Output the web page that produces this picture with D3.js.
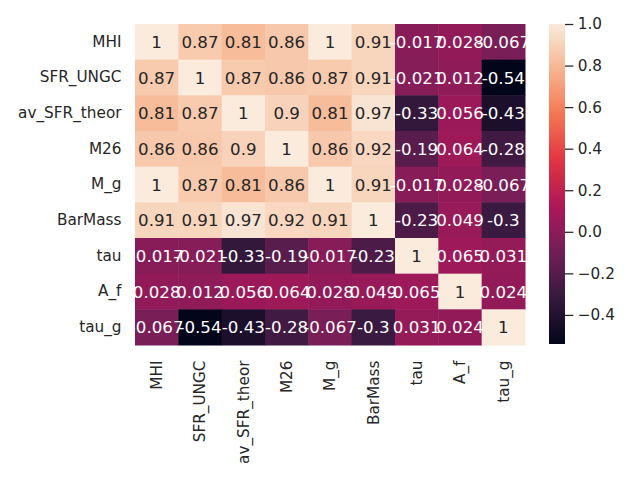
<!DOCTYPE html>
<html>
<head>
<meta charset="utf-8">
<script src="https://cdn.jsdelivr.net/npm/d3@7"></script>
<style>
  body { margin: 0; background: #fff; }
  svg { display: block; font-family: "DejaVu Sans", sans-serif; }
</style>
</head>
<body>
<div id="chart"></div>
<script>
// variable names, same order on both axes
var labels = ["MHI", "SFR_UNGC", "av_SFR_theor", "M26", "M_g", "BarMass", "tau", "A_f", "tau_g"];

// correlation rows, as printed in the cells
var rowMHI      = [1, 0.87, 0.81, 0.86, 1, 0.91, -0.017, 0.028, -0.067];
var rowSFR_UNGC = [0.87, 1, 0.87, 0.86, 0.87, 0.91, -0.021, 0.012, -0.54];
var rowAvSFR    = [0.81, 0.87, 1, 0.9, 0.81, 0.97, -0.33, 0.056, -0.43];
var rowM26      = [0.86, 0.86, 0.9, 1, 0.86, 0.92, -0.19, 0.064, -0.28];
var rowMg       = [1, 0.87, 0.81, 0.86, 1, 0.91, -0.017, 0.028, -0.067];
var rowBarMass  = [0.91, 0.91, 0.97, 0.92, 0.91, 1, -0.23, 0.049, -0.3];
var rowTau      = [-0.017, -0.021, -0.33, -0.19, -0.017, -0.23, 1, 0.065, 0.031];
var rowAf       = [0.028, 0.012, 0.056, 0.064, 0.028, 0.049, 0.065, 1, 0.024];
var rowTauG     = [-0.067, -0.54, -0.43, -0.28, -0.067, -0.3, 0.031, 0.024, 1];

var rows = [rowMHI, rowSFR_UNGC, rowAvSFR, rowM26, rowMg, rowBarMass, rowTau, rowAf, rowTauG];

var colorbarTicks = [-0.4, -0.2, 0.0, 0.2, 0.4, 0.6, 0.8, 1.0];

var width = 640, height = 480;

var cells = [];
rows.forEach(function (r, i) {
	r.forEach(function (v, j) {
		cells.push({ row: labels[i], col: labels[j], value: v });
	});
});

var vmin = d3.min(cells, function (d) { return d.value; });
var vmax = d3.max(cells, function (d) { return d.value; });

// seaborn "rocket" approximated by a few samples of the map
var rocketStops = ["#03051a", "#35193e", "#701f57", "#ad1759", "#e13342", "#f37651", "#f6b48f", "#faebdd"];
var rocket = d3.scaleLinear()
	.domain(rocketStops.map(function (c, i) { return i / (rocketStops.length - 1); }))
	.range(rocketStops)
	.interpolate(d3.interpolateRgb);
rocket.domain([0, 1 / 7, 2 / 7, 3 / 7, 4 / 7, 5 / 7, 6 / 7, 1]);

var norm = d3.scaleLinear().domain([vmin, vmax]).range([0, 1]).clamp(true);
function colorOf(v) { return rocket(norm(v)); }

function textColor(v) {
	var c = d3.rgb(colorOf(v));
	var lin = [c.r, c.g, c.b].map(function (x) {
		x = x / 255;
		return x <= 0.03928 ? x / 12.92 : Math.pow((x + 0.055) / 1.055, 2.4);
	});
	var lum = 0.2126 * lin[0] + 0.7152 * lin[1] + 0.0722 * lin[2];
	return lum > 0.408 ? "#262626" : "#ffffff";
}

function annot(v) {
	return d3.format(".2~g")(v).replace("\u2212", "-");
}

var svg = d3.select("#chart").append("svg")
	.attr("width", width)
	.attr("height", height);

var x = d3.scaleBand().domain(labels).range([135, 525]);
var y = d3.scaleBand().domain(labels).range([24, 345]);

// cells
svg.append("g").selectAll("rect")
	.data(cells)
	.enter().append("rect")
	.attr("x", function (d) { return x(d.col); })
	.attr("y", function (d) { return y(d.row); })
	.attr("width", x.bandwidth() + 0.5)
	.attr("height", y.bandwidth() + 0.5)
	.attr("fill", function (d) { return colorOf(d.value); });

// annotations
svg.append("g").selectAll("text")
	.data(cells)
	.enter().append("text")
	.attr("x", function (d) { return x(d.col) + x.bandwidth() / 2; })
	.attr("y", function (d) { return y(d.row) + y.bandwidth() / 2; })
	.attr("dy", "0.36em")
	.attr("text-anchor", "middle")
	.style("font-size", "16.67px")
	.attr("fill", function (d) { return textColor(d.value); })
	.text(function (d) { return annot(d.value); });

// y labels
var yAxis = svg.append("g")
	.attr("transform", "translate(135,0)")
	.call(d3.axisLeft(y).tickSize(0).tickPadding(13.5));
// x labels
var xAxis = svg.append("g")
	.attr("transform", "translate(0,345)")
	.call(d3.axisBottom(x).tickSize(0).tickPadding(0));

[yAxis, xAxis].forEach(function (a) {
	a.select(".domain").remove();
	a.selectAll("text")
		.style("font-size", "15.28px")
		.style("font-family", "DejaVu Sans, sans-serif")
		.attr("fill", "#262626");
});
xAxis.selectAll("text")
	.attr("transform", "rotate(-90)")
	.attr("x", -15.5)
	.attr("y", 0)
	.attr("dy", "0.35em")
	.attr("text-anchor", "end");

// colorbar
var cbX = 549, cbW = 16;
var cbScale = d3.scaleLinear().domain([vmin, vmax]).range([344, 24]);

var grad = svg.append("defs").append("linearGradient")
	.attr("id", "cbGrad")
	.attr("x1", "0").attr("y1", "1").attr("x2", "0").attr("y2", "0");
grad.selectAll("stop")
	.data(d3.range(0, 1.0001, 0.02))
	.enter().append("stop")
	.attr("offset", function (t) { return t; })
	.attr("stop-color", function (t) { return rocket(t); });

svg.append("rect")
	.attr("x", cbX)
	.attr("y", cbScale(vmax))
	.attr("width", cbW)
	.attr("height", cbScale(vmin) - cbScale(vmax))
	.attr("fill", "url(#cbGrad)");

var cbAxis = svg.append("g")
	.attr("transform", "translate(" + (cbX + cbW) + ",0)")
	.call(d3.axisRight(cbScale).tickValues(colorbarTicks).tickSize(8.3).tickPadding(4.5).tickFormat(d3.format(".1f")));
cbAxis.select(".domain").remove();
cbAxis.selectAll("line").attr("stroke", "#262626").attr("stroke-width", 1.25);
cbAxis.selectAll("text")
	.style("font-size", "15.28px")
	.style("font-family", "DejaVu Sans, sans-serif")
	.attr("fill", "#262626");
</script>
</body>
</html>
